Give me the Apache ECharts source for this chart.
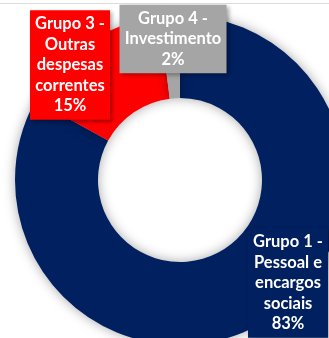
<!DOCTYPE html>
<html>
<head>
<meta charset="utf-8">
<script src="https://cdn.jsdelivr.net/npm/echarts@6/dist/echarts.min.js"></script>
<style>
  html, body { margin: 0; padding: 0; background: #ffffff; }
  #chart { width: 329px; height: 338px; }
</style>
</head>
<body>
<div id="chart"></div>
<script>
// Budget split by expense group (percent of total)
const categories = [
  'Grupo 1 -\nPessoal e\nencargos\nsociais',
  'Grupo 3 -\nOutras\ndespesas\ncorrentes',
  'Grupo 4 -\nInvestimento'
];
const shares = [83, 15, 2];
const sliceColors = ['#002060', '#ff0000', '#a5a5a5'];

// Label box placement (centre of each box) and box widths
const labelCentres = [[288, 283], [70, 65], [173, 39]];
const labelWidths = [72, 72, 99];

const chart = echarts.init(document.getElementById('chart'), null, { renderer: 'canvas' });

const data = categories.map((name, i) => ({
  name: name,
  value: shares[i],
  itemStyle: { color: sliceColors[i] },
  label: {
    backgroundColor: sliceColors[i],
    width: labelWidths[i]
  }
}));

chart.setOption({
  animation: false,
  backgroundColor: '#ffffff',
  graphic: [{
    type: 'line',
    shape: { x1: 0, y1: 3.5, x2: 329, y2: 3.5 },
    style: { stroke: '#dcdcdc', lineWidth: 1 },
    z: 0
  }],
  series: [{
    type: 'pie',
    center: [180, 180],
    radius: [82, 165],
    startAngle: 90,
    clockwise: true,
    avoidLabelOverlap: false,
    itemStyle: {
      shadowBlur: 12,
      shadowColor: 'rgba(0,0,0,0.35)'
    },
    label: {
      show: true,
      position: 'outside',
      formatter: '{b}\n{d}%',
      color: '#ffffff',
      fontFamily: 'Lato',
      fontWeight: 'bold',
      fontSize: 16.5,
      lineHeight: 20.5,
      align: 'center',
      overflow: 'none',
      padding: [4, 4, 3, 4],
      shadowBlur: 4,
      shadowOffsetX: 2,
      shadowOffsetY: 2,
      shadowColor: 'rgba(0,0,0,0.35)'
    },
    labelLine: { show: false },
    labelLayout: function (params) {
      const c = labelCentres[params.dataIndex];
      return { x: c[0], y: c[1], align: 'center', verticalAlign: 'middle' };
    },
    emphasis: { disabled: true },
    data: data
  }]
});
</script>
</body>
</html>
